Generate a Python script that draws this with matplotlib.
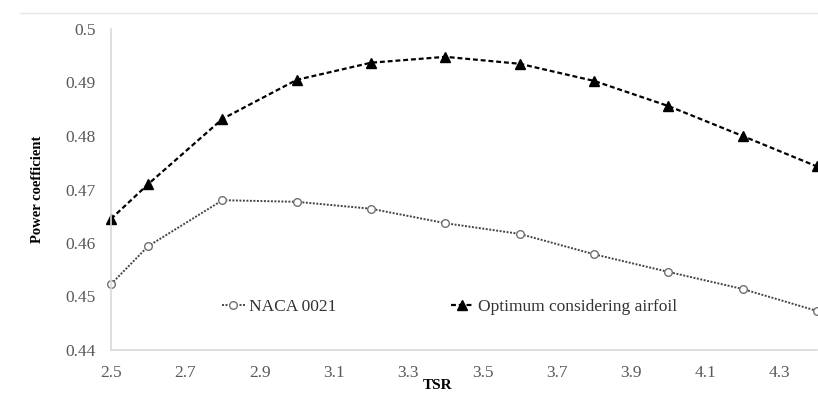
import matplotlib.pyplot as plt
from matplotlib.lines import Line2D

# datos
tsr = [2.5, 2.6, 2.8, 3.0, 3.2, 3.4, 3.6, 3.8, 4.0, 4.2, 4.4]
cp_naca = [0.4523, 0.4594, 0.4680, 0.4677, 0.4664, 0.4637, 0.4617, 0.4579, 0.4546, 0.4514, 0.4473]
cp_optimo = [0.4645, 0.4710, 0.4832, 0.4905, 0.4937, 0.4948, 0.4935, 0.4903, 0.4856, 0.4800, 0.4743]

x_ticks = [2.5, 2.7, 2.9, 3.1, 3.3, 3.5, 3.7, 3.9, 4.1, 4.3]
y_ticks = [0.44, 0.45, 0.46, 0.47, 0.48, 0.49, 0.5]

plt.rcParams['font.family'] = ['Liberation Serif', 'DejaVu Serif']

fig = plt.figure(figsize=(8.18, 3.93), dpi=100)
ax = fig.add_axes([111/818, 1 - 350/393, 706/818, 321/393])

ax.plot(tsr, cp_naca, linestyle=(0, (1, 0.8)), color='#444444', linewidth=1.4,
        marker='o', markersize=5.5, markerfacecolor='white', markeredgecolor='#707070',
        markeredgewidth=1.0, label='NACA 0021', clip_on=False)
ax.plot(tsr, cp_optimo, linestyle=(0, (2.2, 1.3)), color='black', linewidth=1.6,
        marker='^', markersize=7, markerfacecolor='black', markeredgecolor='black',
        label='Optimum considering airfoil', clip_on=False)

ax.set_xlim(2.5, 4.4)
ax.set_ylim(0.44, 0.5)
ax.set_xticks(x_ticks)
ax.set_xticklabels(['%.1f' % v for v in x_ticks])
ax.set_yticks(y_ticks)
ax.set_yticklabels(['0.44', '0.45', '0.46', '0.47', '0.48', '0.49', '0.5'])
ax.tick_params(length=0, labelsize=12.5, labelcolor='#595959')
ax.tick_params(axis='x', pad=11)
ax.tick_params(axis='y', pad=11)

for s in ['top', 'right']:
    ax.spines[s].set_visible(False)
for s in ['left', 'bottom']:
    ax.spines[s].set_color('#d9d9d9')
    ax.spines[s].set_linewidth(1.2)

ax.set_xlabel('TSR', fontsize=11, fontweight='bold')
ax.xaxis.set_label_coords(0.463, -0.09)
ax.set_ylabel('Power coefficient', fontsize=10.5, fontweight='bold')
ax.yaxis.set_label_coords(-0.095, 0.5)

ax.legend(loc='center left', bbox_to_anchor=(0.135, 0.134), ncol=2, frameon=False,
          fontsize=12.5, handlelength=1.3, handletextpad=0.25, columnspacing=6.6,
          labelcolor='#333333')

# linea gris tenue arriba (borde del recorte original)
fig.add_artist(Line2D([20/818, 1], [1 - 13/393, 1 - 13/393], color='#e6e6e6', linewidth=1))

plt.savefig('out.png', dpi=100)
